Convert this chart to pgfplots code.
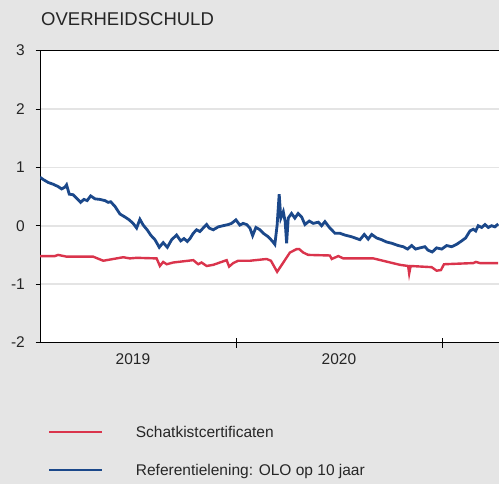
\documentclass[border=0pt]{standalone}
\usepackage{pgfplots}
\pgfplotsset{compat=1.18}
\usepackage{fontspec}
\setmainfont{Liberation Sans}
\definecolor{bggray}{RGB}{229,229,229}
\definecolor{gridgray}{RGB}{228,228,228}
\definecolor{ored}{RGB}{218,52,76}
\definecolor{oblue}{RGB}{27,72,138}
\begin{document}
\begin{tikzpicture}
\path[use as bounding box, fill=bggray] (-40bp,-141.5bp) rectangle (459bp,342.5bp);
\begin{axis}[
  at={(0,0)}, anchor=south west,
  scale only axis, width=459bp, height=292bp,
  xmin=2019.049, xmax=2021.277, ymin=-2, ymax=3,
  clip mode=individual,
  axis background/.style={fill=white},
  axis x line=bottom, axis y line=left,
  axis line style={-, black, line width=0.8bp},
  ytick={-2,-1,0,1,2,3}, yticklabels={-2,-1,0,1,2,3},
  ytick align=outside, major tick length=4.5bp,
  ytick style={black, line width=0.8bp},
  ymajorgrids, grid style={gridgray, line width=1.6bp},
  xtick={2019.5,2020.5}, xticklabels={2019,2020},
  xtick style={draw=none},
  extra x ticks={2020,2021}, extra x tick labels={},
  extra x tick style={xtick align=center, major tick length=10bp, xmajorgrids=false,
     xtick style={draw=black, line width=0.8bp}},
  ticklabel style={font=\fontsize{15.5bp}{18bp}\selectfont, text=black!85},
  yticklabel style={anchor=east, inner sep=0pt, xshift=-10.5bp},
  xticklabel style={anchor=north, inner sep=0pt, yshift=-8.5bp},
  legend style={draw=none, fill=none, inner sep=0pt,
     at={(axis description cs:0.01743,-0.2877)}, anchor=north west,
     row sep=24bp, column sep=33bp,
     nodes={inner sep=0pt, text height=11bp, text depth=3bp},
     font=\fontsize{15.5bp}{18bp}\selectfont, text=black!85},
  legend cell align=left,
  legend image code/.code={\draw[#1, line width=1.7bp] (0bp,1.5bp) -- (53bp,1.5bp);},
]
\addplot[ored, line width=2.4bp] coordinates {
(2019.049,-0.52) (2019.121,-0.52) (2019.137,-0.50) (2019.178,-0.53) (2019.307,-0.53)
(2019.356,-0.60) (2019.453,-0.54) (2019.485,-0.56) (2019.518,-0.55) (2019.615,-0.56)
(2019.631,-0.69) (2019.647,-0.62) (2019.664,-0.66) (2019.696,-0.63) (2019.793,-0.59)
(2019.817,-0.66) (2019.833,-0.63) (2019.858,-0.69) (2019.890,-0.67) (2019.955,-0.59)
(2019.967,-0.70) (2019.987,-0.64) (2020.011,-0.60) (2020.068,-0.60) (2020.149,-0.57)
(2020.170,-0.60) (2020.200,-0.79) (2020.262,-0.46) (2020.295,-0.40) (2020.307,-0.40)
(2020.327,-0.46) (2020.351,-0.50) (2020.456,-0.51) (2020.465,-0.57) (2020.497,-0.52)
(2020.521,-0.56) (2020.667,-0.56) (2020.796,-0.67) (2020.836,-0.69) (2020.841,-0.82)
(2020.848,-0.69) (2020.950,-0.71) (2020.974,-0.77) (2020.995,-0.76) (2021.010,-0.66)
(2021.152,-0.64) (2021.165,-0.62) (2021.184,-0.64) (2021.273,-0.64)
};
\addlegendentry{Schatkistcertificaten}
\addplot[oblue, line width=2.8bp] coordinates {
(2019.049,0.83) (2019.065,0.79) (2019.089,0.74) (2019.113,0.71) (2019.137,0.67)
(2019.154,0.63) (2019.170,0.66) (2019.178,0.70) (2019.191,0.54) (2019.210,0.53)
(2019.227,0.47) (2019.246,0.40) (2019.262,0.45) (2019.278,0.43) (2019.295,0.51)
(2019.316,0.46) (2019.340,0.45) (2019.364,0.43) (2019.380,0.40) (2019.392,0.41)
(2019.413,0.33) (2019.437,0.20) (2019.461,0.15) (2019.482,0.10) (2019.501,0.04)
(2019.518,-0.04) (2019.534,0.11) (2019.550,0.01) (2019.569,-0.07) (2019.586,-0.16)
(2019.607,-0.24) (2019.628,-0.37) (2019.647,-0.29) (2019.667,-0.37) (2019.688,-0.24)
(2019.712,-0.16) (2019.732,-0.26) (2019.748,-0.22) (2019.764,-0.27) (2019.777,-0.22)
(2019.793,-0.13) (2019.809,-0.07) (2019.825,-0.10) (2019.841,-0.04) (2019.858,0.02)
(2019.870,-0.04) (2019.890,-0.07) (2019.914,-0.02) (2019.938,0.00) (2019.963,0.02)
(2019.979,0.04) (2020.000,0.10) (2020.019,0.01) (2020.035,0.04) (2020.052,0.02)
(2020.068,-0.04) (2020.081,-0.17) (2020.097,-0.03) (2020.117,-0.07) (2020.133,-0.13)
(2020.157,-0.19) (2020.178,-0.27) (2020.189,-0.32) (2020.200,0.01) (2020.210,0.54)
(2020.218,0.13) (2020.230,0.24) (2020.239,0.07) (2020.246,-0.30) (2020.254,0.13)
(2020.270,0.21) (2020.286,0.13) (2020.302,0.21) (2020.319,0.15) (2020.335,0.02)
(2020.356,0.08) (2020.375,0.04) (2020.400,0.06) (2020.416,0.00) (2020.432,0.07)
(2020.456,-0.04) (2020.481,-0.13) (2020.505,-0.13) (2020.529,-0.16) (2020.562,-0.19)
(2020.586,-0.22) (2020.602,-0.24) (2020.623,-0.15) (2020.642,-0.23) (2020.659,-0.15)
(2020.683,-0.21) (2020.707,-0.24) (2020.732,-0.28) (2020.756,-0.30) (2020.788,-0.34)
(2020.812,-0.36) (2020.833,-0.40) (2020.853,-0.34) (2020.872,-0.40) (2020.893,-0.38)
(2020.917,-0.36) (2020.933,-0.42) (2020.953,-0.45) (2020.974,-0.38) (2020.999,-0.40)
(2021.023,-0.34) (2021.047,-0.36) (2021.071,-0.32) (2021.096,-0.26) (2021.115,-0.21)
(2021.136,-0.09) (2021.152,-0.06) (2021.164,-0.09) (2021.176,0.00) (2021.193,-0.03)
(2021.209,0.02) (2021.225,-0.03) (2021.241,0.00) (2021.257,-0.02) (2021.273,0.03)
};
\addlegendentry{Referentielening: OLO op 10 jaar}
\draw[black, line width=0.8bp] (rel axis cs:0,1) -- (rel axis cs:1,1);
\end{axis}
\node[anchor=base west, inner sep=0pt, font=\fontsize{18.5bp}{22bp}\selectfont, text=black!85] at (1bp,316.5bp) {OVERHEIDSCHULD};
\end{tikzpicture}
\end{document}
